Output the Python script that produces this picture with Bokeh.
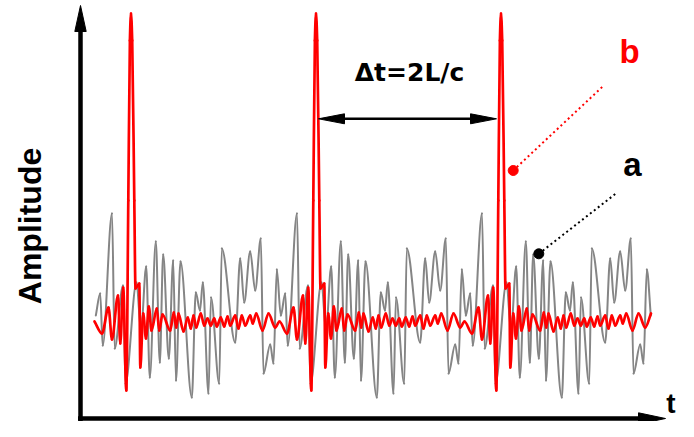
import numpy as np
from bokeh.plotting import figure
from bokeh.models import Range1d, Label, ColumnDataSource
from bokeh.embed import file_html
from bokeh.resources import INLINE

# ---------------- data ----------------
# a: broadband noise signal (gray) - successive turning points
gray_t = [1.53, 1.97, 2.22, 3.15, 3.42, 4.25, 4.50, 5.60, 6.05, 6.57, 6.93, 7.53, 7.93, 8.27, 8.83, 9.27, 9.55, 10.00,
          11.13, 11.53, 11.95, 12.23, 12.80, 13.05, 13.87, 14.13, 15.47, 15.97, 16.37, 16.97, 17.47, 18.03, 18.30, 18.97, 19.30, 19.63,
          20.03, 20.47, 20.72, 21.65, 21.92, 22.75, 23.00, 24.10, 24.55, 25.07, 25.43, 26.03, 26.43, 26.77, 27.33, 27.77, 28.05, 28.50,
          29.63, 30.03, 30.45, 30.73, 31.30, 31.55, 32.37, 32.63, 33.97, 34.47, 34.87, 35.47, 35.97, 36.53, 36.80, 37.47, 37.80, 38.13,
          38.53, 38.97, 39.22, 40.15, 40.42, 41.25, 41.50, 42.60, 43.05, 43.57, 43.93, 44.53, 44.93, 45.27, 45.83, 46.27, 46.55, 47.00,
          48.13, 48.53, 48.95, 49.23, 49.80, 50.05, 50.87, 51.13, 52.47, 52.97, 53.37, 53.97, 54.47, 55.03, 55.30, 55.97, 56.30, 56.63,
          57.03]
gray_amp = [0.08, 0.30, -0.22, 1.10, -0.25, 0.38, -0.60, 0.41, -0.07, 0.57, -0.54, 0.82, -0.39, 0.69, -0.35, 0.63, -0.57, 0.62,
            -0.74, 0.31, 0.13, 0.41, -0.70, 0.26, -0.60, 0.75, -0.19, 0.65, 0.21, 0.72, 0.33, 0.85, -0.50, -0.21, -0.40, 0.54,
            0.08, 0.30, -0.22, 1.10, -0.25, 0.38, -0.60, 0.41, -0.07, 0.57, -0.54, 0.82, -0.39, 0.69, -0.35, 0.63, -0.57, 0.62,
            -0.74, 0.31, 0.13, 0.41, -0.70, 0.26, -0.60, 0.75, -0.19, 0.65, 0.21, 0.72, 0.33, 0.85, -0.50, -0.21, -0.40, 0.54,
            0.08, 0.30, -0.22, 1.10, -0.25, 0.38, -0.60, 0.41, -0.07, 0.57, -0.54, 0.82, -0.39, 0.69, -0.35, 0.63, -0.57, 0.62,
            -0.74, 0.31, 0.13, 0.41, -0.70, 0.26, -0.60, 0.75, -0.19, 0.65, 0.21, 0.72, 0.33, 0.85, -0.50, -0.21, -0.40, 0.54,
            0.08]

# b: echo signal with periodic pulses (red)
red_t = [1.40, 2.15, 2.80, 3.15, 3.75, 3.98, 4.27, 4.58, 4.78, 4.94, 5.05, 5.17, 5.38, 5.50, 5.88, 5.98, 6.27, 6.55, 6.83, 7.10,
         7.63, 7.87, 8.20, 8.97, 9.33, 9.57, 9.80, 10.30, 10.73, 11.03, 11.30, 11.57, 12.03, 12.37, 12.70, 13.03, 13.37, 13.63,
         14.03, 14.37, 14.70, 14.97, 15.47, 15.80, 16.13, 16.47, 16.97, 17.23, 17.57, 18.20, 18.80, 19.47,
         19.90, 20.65, 21.30, 21.65, 22.25, 22.48, 22.77, 23.08, 23.28, 23.44, 23.55, 23.67, 23.88, 24.00, 24.38, 24.48, 24.77, 25.05,
         25.33, 25.60, 26.13, 26.37, 26.70, 27.47, 27.83, 28.07, 28.30, 28.80, 29.23, 29.53, 29.80, 30.07, 30.53, 30.87, 31.20, 31.53,
         31.87, 32.13, 32.53, 32.87, 33.20, 33.47, 33.97, 34.30, 34.63, 34.97, 35.47, 35.73, 36.07, 36.70, 37.30, 37.97,
         38.40, 39.15, 39.80, 40.15, 40.75, 40.98, 41.27, 41.58, 41.78, 41.94, 42.05, 42.17, 42.38, 42.50, 42.88, 42.98, 43.27, 43.55,
         43.83, 44.10, 44.63, 44.87, 45.20, 45.97, 46.33, 46.57, 46.80, 47.30, 47.73, 48.03, 48.30, 48.57, 49.03, 49.37, 49.70, 50.03,
         50.37, 50.63, 51.03, 51.37, 51.70, 51.97, 52.47, 52.80, 53.13, 53.47, 53.97, 54.23, 54.57, 55.20, 55.80, 56.47,
         57.05]
red_amp = [0.02, -0.10, 0.16, -0.16, 0.28, -0.20, 0.36, -0.67, 1.23, 2.83, 3.10, 2.83, 1.23, 0.35, 0.40, -0.44, 0.10, -0.15, 0.17, -0.07,
           0.15, -0.07, 0.09, -0.07, 0.11, -0.04, 0.10, -0.08, 0.06, -0.05, 0.08, -0.04, 0.10, -0.02, 0.05, -0.02, 0.05, -0.03,
           0.06, -0.03, 0.07, -0.02, 0.08, -0.05, 0.08, -0.02, 0.08, 0.00, 0.10, -0.07, 0.10, -0.04,
           0.02, -0.10, 0.16, -0.16, 0.28, -0.20, 0.36, -0.67, 1.23, 2.83, 3.10, 2.83, 1.23, 0.35, 0.40, -0.44, 0.10, -0.15, 0.17, -0.07,
           0.15, -0.07, 0.09, -0.07, 0.11, -0.04, 0.10, -0.08, 0.06, -0.05, 0.08, -0.04, 0.10, -0.02, 0.05, -0.02, 0.05, -0.03,
           0.06, -0.03, 0.07, -0.02, 0.08, -0.05, 0.08, -0.02, 0.08, 0.00, 0.10, -0.07, 0.10, -0.04,
           0.02, -0.10, 0.16, -0.16, 0.28, -0.20, 0.36, -0.67, 1.23, 2.83, 3.10, 2.83, 1.23, 0.35, 0.40, -0.44, 0.10, -0.15, 0.17, -0.07,
           0.15, -0.07, 0.09, -0.07, 0.11, -0.04, 0.10, -0.08, 0.06, -0.05, 0.08, -0.04, 0.10, -0.02, 0.05, -0.02, 0.05, -0.03,
           0.06, -0.03, 0.07, -0.02, 0.08, -0.05, 0.08, -0.02, 0.08, 0.00, 0.10, -0.07, 0.10, -0.04,
           0.10]

delta_label = "\u0394t=2L/c"
label_a = "a"
label_b = "b"
y_title = "Amplitude"
x_title = "t"


def smooth_segments(x, y):
    """Monotone cubic (Fritsch-Carlson) Bezier segments through the given points."""
    x = np.asarray(x, float)
    y = np.asarray(y, float)
    h = np.diff(x)
    d = np.diff(y) / h
    m = np.zeros(len(x))
    m[0], m[-1] = d[0], d[-1]
    for i in range(1, len(x) - 1):
        if d[i - 1] * d[i] > 0:
            w1 = 2 * h[i] + h[i - 1]
            w2 = h[i] + 2 * h[i - 1]
            m[i] = (w1 + w2) / (w1 / d[i - 1] + w2 / d[i])
    return ColumnDataSource(dict(
        x0=x[:-1], y0=y[:-1], x1=x[1:], y1=y[1:],
        cx0=x[:-1] + h / 3, cy0=y[:-1] + m[:-1] * h / 3,
        cx1=x[1:] - h / 3, cy1=y[1:] - m[1:] * h / 3))


# ---------------- figure ----------------
FONT = "Liberation Sans"
p = figure(width=678, height=421, output_backend="svg", toolbar_location=None,
           x_range=Range1d(-8.0, 59.8), y_range=Range1d(-0.98, 3.23),
           x_axis_location=None, y_axis_location=None, min_border=0,
           outline_line_color=None, background_fill_color="white",
           border_fill_color="white")
p.grid.grid_line_color = None

# signals
p.bezier(x0="x0", y0="y0", x1="x1", y1="y1", cx0="cx0", cy0="cy0", cx1="cx1", cy1="cy1",
         source=smooth_segments(gray_t, gray_amp), line_color="#858585", line_width=2, line_cap="round")
p.bezier(x0="x0", y0="y0", x1="x1", y1="y1", cx0="cx0", cy0="cy0", cx1="cx1", cy1="cy1",
         source=smooth_segments(red_t, red_amp), line_color="#ff0000", line_width=2.7, line_cap="round")

# axes drawn as arrows
ax_y = -0.95
p.line([-0.25, 56.0], [ax_y, ax_y], line_color="black", line_width=4.5)
p.patch([58.5, 55.8, 55.8], [ax_y, ax_y + 0.057, ax_y - 0.057], fill_color="black", line_color="black")
p.line([0, 0], [-0.98, 2.95], line_color="black", line_width=4.5)
p.patch([0, -0.57, 0.57], [3.18, 2.92, 2.92], fill_color="black", line_color="black")

# delta-t double arrow
arr_y = 2.047
p.line([25.0, 40.5], [arr_y, arr_y], line_color="black", line_width=2.5)
p.patch([23.8, 26.4, 26.4], [arr_y, arr_y + 0.05, arr_y - 0.05], fill_color="black", line_color="black")
p.patch([41.6, 39.0, 39.0], [arr_y, arr_y + 0.05, arr_y - 0.05], fill_color="black", line_color="black")

# leader lines
p.line([43.27, 52.33], [1.53, 2.38], line_color="#ff0000", line_width=2, line_dash="2 3")
p.scatter([43.27], [1.53], size=10, color="#ff0000")
p.line([45.83, 53.5], [0.697, 1.297], line_color="black", line_width=2, line_dash="2 3")
p.scatter([45.83], [0.697], size=10, color="black")

# texts
p.add_layout(Label(x=32.9, y=2.51, text=delta_label, text_font="DejaVu Sans", text_font_style="bold",
                   text_font_size="25px", text_align="center", text_baseline="alphabetic", text_color="black"))
p.add_layout(Label(x=54.9, y=2.72, text=label_b, text_font=FONT, text_font_style="bold",
                   text_font_size="33px", text_align="center", text_baseline="alphabetic", text_color="#ff0000"))
p.add_layout(Label(x=55.2, y=1.59, text=label_a, text_font=FONT, text_font_style="bold",
                   text_font_size="33px", text_align="center", text_baseline="alphabetic", text_color="black"))
p.add_layout(Label(x=-5.05, y=0.975, text=y_title, text_font=FONT, text_font_style="bold", angle=1.5708,
                   text_font_size="32px", text_align="center", text_baseline="alphabetic", text_color="black"))
p.add_layout(Label(x=59.5, y=-0.80, text=x_title, text_font=FONT, text_font_style="bold",
                   text_font_size="28px", text_align="right", text_baseline="alphabetic", text_color="black"))

open("out.html", "w").write(file_html(p, INLINE))
